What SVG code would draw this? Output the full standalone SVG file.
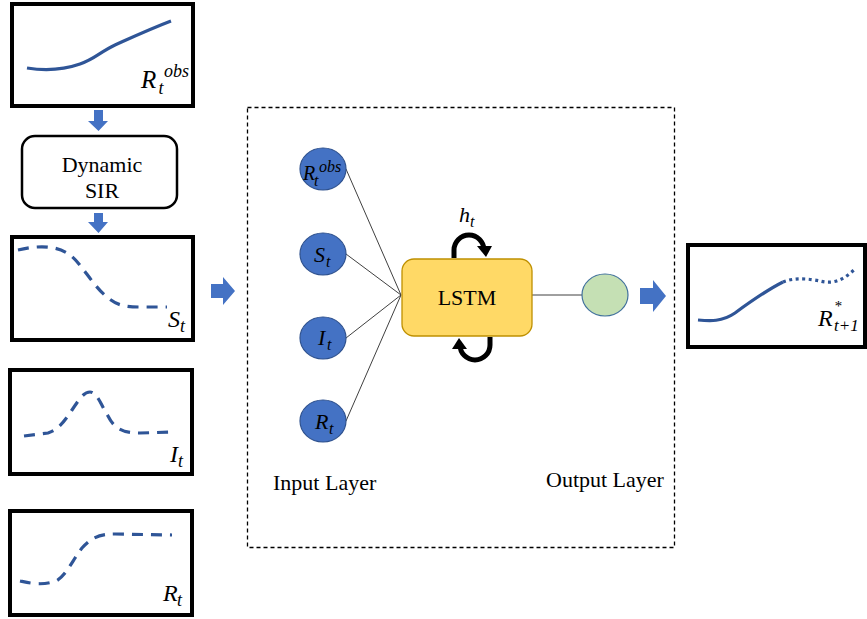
<svg xmlns="http://www.w3.org/2000/svg" width="867" height="619" viewBox="0 0 867 619">
<defs>
<style>
.box{fill:#fff;stroke:#000;stroke-width:4}
.curve{fill:none;stroke:#2F5597;stroke-width:3.2;stroke-linecap:butt}
.dash{stroke-dasharray:11 8}
.blk{fill:#4472C4}
.inp{fill:#4472C4;stroke:#2F528F;stroke-width:1.2}
.math{font-family:"Liberation Serif","DejaVu Serif",serif;font-style:italic;fill:#000}
.txt{font-family:"Liberation Serif","Times New Roman",serif;fill:#000}
.link{stroke:#404040;stroke-width:1;fill:none}
.loop{fill:none;stroke:#000;stroke-width:5}
</style>
</defs>
<rect width="867" height="619" fill="#fff"/>

<g id="robs-box">
<rect class="box" x="12" y="4" width="181" height="102"/>
<path class="curve" d="M27 68 C40 70 60 71 80 64 C95 59 100 52 115 45 C135 36 150 29 171 21"/>
<text class="math" font-size="25"><tspan x="141" y="88">R</tspan><tspan x="158.5" y="94" font-size="18">t</tspan><tspan x="164" y="77" font-size="18">obs</tspan></text>
</g>

<g id="arrow-down-1"><polygon class="blk" points="94,110 103,110 103,121 108,121 98.5,131 88,121 94,121"/></g>

<g id="dynamic-sir">
<rect x="22" y="136" width="155" height="72" rx="13" fill="#fff" stroke="#000" stroke-width="2.5"/>
<text class="txt" font-size="22" text-anchor="middle" x="102" y="172">Dynamic</text>
<text class="txt" font-size="22" text-anchor="middle" x="102" y="198">SIR</text>
</g>

<g id="arrow-down-2"><polygon class="blk" points="94,213 103,213 103,222 108,222 98.5,233 88,222 94,222"/></g>

<g id="st-box">
<rect class="box" x="12" y="237" width="181" height="103"/>
<path class="curve dash" d="M18 250 C35 246 55 244 70 255 C82 264 92 285 107 297 C115 304 122 307 140 307 L167 307"/>
<text class="math" font-size="24"><tspan x="168" y="327">S</tspan><tspan x="180" y="332" font-size="18">t</tspan></text>
</g>

<g id="it-box">
<rect class="box" x="10" y="370" width="182" height="104"/>
<path class="curve dash" d="M24 436 L48 433 C58 430 64 422 72 410 C80 398 84 392 90 392 C97 392 101 405 108 416 C114 428 122 433 140 433 L173 432"/>
<text class="math" font-size="24"><tspan x="170" y="462">I</tspan><tspan x="178" y="467" font-size="18">t</tspan></text>
</g>

<g id="rt-box">
<rect class="box" x="10" y="511" width="182" height="104"/>
<path class="curve dash" d="M20 581 C30 583 42 586 56 581 C66 576 72 561 82 548 C92 537 100 534 115 534 L172 535"/>
<text class="math" font-size="24"><tspan x="163" y="601">R</tspan><tspan x="177" y="606" font-size="18">t</tspan></text>
</g>

<g id="arrow-right-1"><polygon class="blk" points="211,284 223,284 223,277 235,291 223,305 223,298 211,298"/></g>

<g id="lstm-frame"><rect x="247.5" y="107.5" width="427" height="440" fill="none" stroke="#000" stroke-width="1.3" stroke-dasharray="4 3"/></g>

<g id="connectors">
<line class="link" x1="346" y1="169" x2="401" y2="295"/>
<line class="link" x1="346" y1="254" x2="401" y2="295"/>
<line class="link" x1="346" y1="338" x2="401" y2="295"/>
<line class="link" x1="346" y1="421" x2="401" y2="295"/>
<line class="link" x1="532" y1="295" x2="582" y2="295"/>
</g>

<g id="in-robs"><ellipse class="inp" cx="323" cy="169" rx="23" ry="21"/>
<text class="math" font-size="20"><tspan x="303" y="180">R</tspan><tspan x="314" y="186" font-size="16">t</tspan><tspan x="319" y="172" font-size="16">obs</tspan></text></g>
<g id="in-st"><ellipse class="inp" cx="323" cy="254" rx="23" ry="21"/>
<text class="math" font-size="22"><tspan x="314" y="262">S</tspan><tspan x="326" y="267" font-size="16">t</tspan></text></g>
<g id="in-it"><ellipse class="inp" cx="323" cy="338" rx="23" ry="21"/>
<text class="math" font-size="22"><tspan x="318" y="345">I</tspan><tspan x="327" y="350" font-size="16">t</tspan></text></g>
<g id="in-rt"><ellipse class="inp" cx="323" cy="421" rx="23" ry="21"/>
<text class="math" font-size="22"><tspan x="315" y="429">R</tspan><tspan x="329" y="434" font-size="16">t</tspan></text></g>

<g id="lstm">
<rect x="402" y="259" width="130" height="77" rx="12" fill="#FFD966" stroke="#BF9000" stroke-width="1.3"/>
<text class="txt" font-size="22" text-anchor="middle" x="467" y="305">LSTM</text>
</g>

<g id="loop-top">
<path class="loop" d="M454 258 L454 250 A15 15 0 0 1 484 250"/>
<polygon points="477,246 492,246 486,257" fill="#000"/>
<text class="math" font-size="22"><tspan x="459" y="222">h</tspan><tspan x="470" y="227" font-size="16">t</tspan></text>
</g>
<g id="loop-bottom">
<path class="loop" d="M490 337 L490 345 A15 15 0 0 1 460 345"/>
<polygon points="452,349 467,349 459,338" fill="#000"/>
</g>

<g id="output-node"><ellipse cx="605" cy="295" rx="23" ry="21" fill="#C5E0B4" stroke="#41719C" stroke-width="1.2"/></g>

<g id="arrow-right-2"><polygon class="blk" points="640,288 653,288 653,280 666,296 653,312 653,304 640,304"/></g>

<g id="labels">
<text class="txt" font-size="22" x="273" y="490">Input Layer</text>
<text class="txt" font-size="22" x="546" y="487">Output Layer</text>
</g>

<g id="output-box">
<rect class="box" x="688" y="245" width="177" height="102"/>
<path class="curve" d="M698 320 C710 321 722 322 735 313 C750 302 765 291 783 282"/>
<path class="curve" stroke-dasharray="3 3.5" d="M783 282 C795 277 810 279 820 281 C835 285 845 278 854 270"/>
<text class="math" font-size="24"><tspan x="818" y="326">R</tspan><tspan x="834" y="311" font-size="15">*</tspan><tspan x="834" y="331" font-size="17">t+1</tspan></text>
</g>
</svg>
